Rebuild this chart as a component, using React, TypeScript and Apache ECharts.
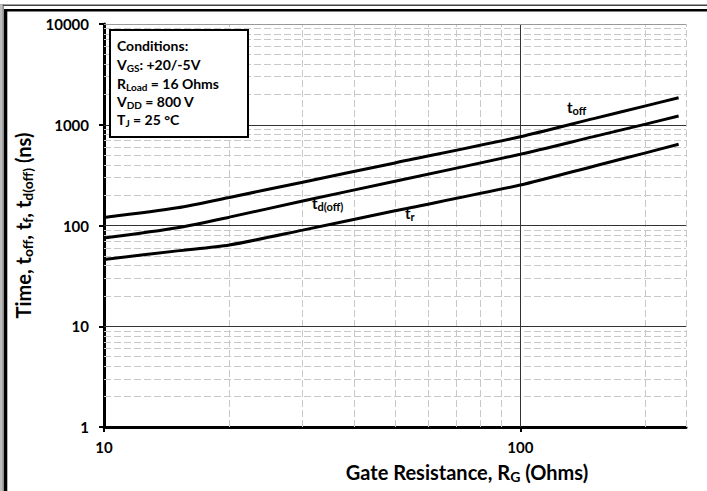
import React, { useEffect, useRef } from 'react';
import * as echarts from 'echarts';

// Gate resistance (Ohms) sample points
const resistance = [10, 15, 20, 30, 50, 100, 150, 200, 240];
// Switching times (ns)
const tOff = [120, 150, 190, 269, 418, 760, 1150, 1540, 1850];
const tdOff = [75, 95, 121, 175, 275, 509, 763, 1015, 1220];
const tR = [46, 56, 64, 90, 140, 252, 388, 526, 640];

// Axis ticks / grid values
const xTickValues = [10, 100];
const xMajorGrid = [100];
const xMinorGrid = [20, 30, 40, 50, 60, 70, 80, 90, 200, 250];
const yMajorGrid = [10, 100, 1000];
const yTopGrid = [10000];
const yMinorGrid = [
  2, 3, 4, 5, 6, 7, 8, 9,
  20, 30, 40, 50, 60, 70, 80, 90,
  200, 300, 400, 500, 600, 700, 800, 900,
  2000, 3000, 4000, 5000, 6000, 7000, 8000, 9000,
];

const FONT = 'Lato, "Open Sans", sans-serif';

const minorStyle = { color: '#c8c8c8', width: 1, type: [7, 3] as any };
const majorStyle = { color: '#333', width: 1, type: 'solid' as any };
const topStyle = { color: '#999', width: 1, type: 'solid' as any };

const subRich = (size: number, sub: number, lh: number, slh: number) => ({
  m: { fontFamily: FONT, fontWeight: 'bold', fontSize: size, lineHeight: lh, fill: '#000', color: '#000' },
  s: { fontFamily: FONT, fontWeight: 'bold', fontSize: sub, lineHeight: slh, verticalAlign: 'bottom', fill: '#000', color: '#000' },
});

function txt(x: number, y: number, text: string, rich: any, align = 'left') {
  return {
    type: 'text',
    x,
    y,
    z: 120,
    style: { text, rich, align, verticalAlign: 'middle', fill: '#000', fontFamily: FONT, fontWeight: 'bold' },
  };
}

export default function App() {
  const ref = useRef<HTMLDivElement>(null);
  useEffect(() => {
    const chart = echarts.init(ref.current!, null, { renderer: 'svg' });
    const condRich = subRich(14, 10, 17, 8);
    const labRich = subRich(15, 11, 18, 9);
    const titleRich = subRich(20, 14, 23, 11);
    const gridLines = [
      ...xMinorGrid.map((v) => ({ xAxis: v, lineStyle: minorStyle })),
      ...yMinorGrid.map((v) => ({ yAxis: v, lineStyle: minorStyle })),
      ...xMajorGrid.map((v) => ({ xAxis: v, lineStyle: majorStyle })),
      ...yMajorGrid.map((v) => ({ yAxis: v, lineStyle: majorStyle })),
      ...yTopGrid.map((v) => ({ yAxis: v, lineStyle: topStyle })),
    ];
    const curve = (name: string, vals: number[]) => ({
      name,
      type: 'line',
      z: 5,
      data: resistance.map((r, i) => [r, vals[i]]),
      showSymbol: false,
      symbol: 'none',
      smooth: 0.25,
      lineStyle: { color: '#000', width: 3 },
      silent: true,
    });
    chart.setOption({
      animation: false,
      grid: { left: 104, top: 24, width: 582, height: 403 },
      xAxis: {
        type: 'log',
        logBase: 10,
        min: 10,
        max: 250,
        axisLine: { show: true, lineStyle: { color: '#000', width: 3 } },
        axisTick: { show: true, length: 5, customValues: xTickValues, lineStyle: { color: '#000', width: 2 } },
        axisLabel: {
          customValues: xTickValues,
          fontFamily: FONT,
          fontWeight: 'bold',
          fontSize: 15,
          color: '#000',
          margin: 12,
          formatter: (v: number) => String(Math.round(v)),
        },
        splitLine: { show: false },
        minorTick: { show: false },
      },
      yAxis: {
        type: 'log',
        logBase: 10,
        min: 1,
        max: 10000,
        axisLine: { show: true, lineStyle: { color: '#000', width: 3 } },
        axisTick: { show: true, length: 5, lineStyle: { color: '#000', width: 2 } },
        axisLabel: {
          fontFamily: FONT,
          fontWeight: 'bold',
          fontSize: 15,
          color: '#000',
          margin: 15,
          formatter: (v: number) => String(Math.round(v)),
        },
        splitLine: { show: false },
        name: '{m|Time, t}{s|off}{m|, t}{s|f}{m|, t}{s|d(off)}{m| (ns)}',
        nameLocation: 'middle',
        nameGap: 56,
        nameTextStyle: {
          rich: {
            m: { fontFamily: FONT, fontWeight: 'bold', fontSize: 20, lineHeight: 23, color: '#000' },
            s: { fontFamily: FONT, fontWeight: 'bold', fontSize: 14, lineHeight: 11, verticalAlign: 'bottom', color: '#000' },
          },
        },
      },
      series: [
        {
          type: 'line',
          z: 1,
          data: [],
          symbol: 'none',
          silent: true,
          markLine: {
            silent: true,
            symbol: ['none', 'none'],
            label: { show: false },
            emphasis: { disabled: true },
            data: gridLines,
          },
        },
        curve('toff', tOff),
        curve('tdoff', tdOff),
        curve('tr', tR),
      ],
      graphic: [
        // outer frame (top and left double lines)
        { type: 'rect', z: 200, shape: { x: 0, y: 4.5, width: 707, height: 1.5 }, style: { fill: '#444' } },
        { type: 'rect', z: 200, shape: { x: 4, y: 9, width: 703, height: 2.5 }, style: { fill: '#000' } },
        { type: 'rect', z: 200, shape: { x: 0, y: 4.5, width: 3, height: 487 }, style: { fill: '#bdbdbd' } },
        { type: 'rect', z: 200, shape: { x: 2.8, y: 4.5, width: 0.8, height: 487 }, style: { fill: '#444' } },
        { type: 'rect', z: 200, shape: { x: 4, y: 9, width: 3.3, height: 482 }, style: { fill: '#000' } },
        // conditions box
        {
          type: 'rect',
          z: 110,
          shape: { x: 110, y: 30, width: 138, height: 107 },
          style: { fill: '#fff', stroke: '#000', lineWidth: 2 },
        },
        txt(117, 45, '{m|Conditions:}', condRich),
        txt(117, 64, '{m|V}{s|GS}{m|: +20/-5V}', condRich),
        txt(117, 83, '{m|R}{s|Load}{m| = 16 Ohms}', condRich),
        txt(117, 101, '{m|V}{s|DD}{m| = 800 V}', condRich),
        txt(117, 119, '{m|T}{s|J}{m| = 25 °C}', condRich),
        // curve labels
        txt(567, 107, '{m|t}{s|off}', labRich),
        txt(312, 203, '{m|t}{s|d(off)}', labRich),
        txt(405, 213, '{m|t}{s|r}', labRich),
        // x axis title
        txt(467, 472, '{m|Gate Resistance, R}{s|G}{m| (Ohms)}', titleRich, 'center'),
      ],
    });
    return () => chart.dispose();
  }, []);
  return <div ref={ref} style={{ position: 'absolute', left: 0, top: 0, width: 707, height: 491 }} />;
}
